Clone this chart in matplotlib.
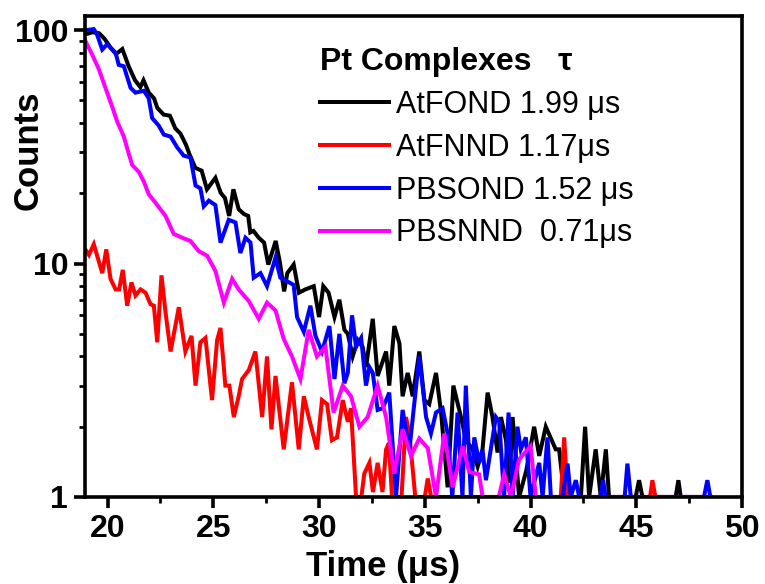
import numpy as np
import matplotlib
matplotlib.use('Agg')
import matplotlib.pyplot as plt
from matplotlib.ticker import LogLocator, NullFormatter, FixedLocator, MultipleLocator

plt.rcParams['font.family'] = ['Liberation Sans', 'DejaVu Sans']

# AtFOND (black)
t_atfond = [18.95, 19.3, 19.6, 19.85, 20.15, 20.4, 20.7, 21.0, 21.3, 21.55, 21.7, 21.95, 22.2, 22.35,
            22.65, 22.95, 23.2, 23.45, 23.7, 23.9, 24.15, 24.45, 24.7, 25.1, 25.35, 25.55, 25.75, 25.95,
            26.2, 26.45, 26.65, 26.75, 26.9, 27.15, 27.4, 27.6, 27.95, 28.15, 28.35, 28.5, 28.8, 29.05,
            29.35, 29.75, 30.0, 30.2, 30.45, 30.73, 30.96, 31.2, 31.36, 31.59, 31.83, 32.06, 32.22, 32.54,
            32.77, 33.17, 33.32, 33.56, 33.8, 33.95, 34.19, 34.43, 34.74, 34.98, 35.21, 35.53, 35.77, 36.08,
            36.35, 36.71, 36.95, 37.26, 37.5, 37.73, 37.97, 38.2, 38.44, 38.6, 38.84, 39.0, 39.15, 39.46,
            39.8, 40.17, 40.41, 40.72, 41.19, 41.35, 41.6, 42.38, 42.58, 42.77, 43.08, 43.32, 43.56, 43.71,
            44.97, 45.13, 45.29, 46.86, 46.99, 47.1, 48.5]
c_atfond = [96, 98, 97, 92, 84, 79, 83, 70, 61, 57, 61, 54, 51, 46.5,
            43.5, 43, 38, 36, 32.4, 29, 25.7, 25, 20.8, 23.3, 20.1, 19.1, 16.0, 20.8,
            17.1, 16.3, 16.0, 13.6, 13.8, 12.9, 12.3, 9.9, 12.5, 10.1, 7.6, 9.1, 9.9, 7.5,
            7.75, 8.0, 5.9, 8.0, 7.5, 5.9, 7.0, 5.2, 5.0, 4.0, 4.7, 4.4, 3.6, 5.8,
            3.3, 4.2, 3.0, 5.4, 4.55, 2.7, 3.4, 2.7, 4.2, 2.6, 2.5, 3.4, 2.3, 1.1,
            3.0, 2.2, 1.75, 1.6, 1.35, 1.6, 2.8, 2.2, 1.55, 2.2, 1.75, 1.15, 2.2, 1.0,
            1.3, 2.0, 1.5, 2.0, 1.6, 1.6, 1.0, 1.0, 2.0, 1.0, 1.6, 1.0, 1.6, 1.0,
            1.0, 1.18, 1.0, 1.0, 1.18, 1.0, 1.0]

# AtFNND (red)
t_atfnnd = [18.95, 19.12, 19.35, 19.75, 19.94, 20.14, 20.38, 20.55, 20.72, 20.93, 21.13, 21.32, 21.56,
            21.8, 22.03, 22.19, 22.35, 22.55, 22.74, 22.98, 23.37, 23.68, 23.97, 24.16, 24.39, 24.63,
            24.94, 25.18, 25.34, 25.57, 25.76, 25.97, 26.2, 26.36, 26.68, 26.99, 27.31, 27.54, 27.75,
            27.94, 28.33, 28.72, 29.04, 29.28, 29.51, 29.9, 30.14, 30.38, 30.61, 30.85, 31.12, 31.36,
            31.51, 31.75, 32.0, 32.14, 32.38, 32.55, 32.77, 33.0, 33.17, 33.3, 33.45, 33.9, 34.11, 34.27,
            34.55, 35.0, 35.14, 35.3, 41.43, 41.59, 41.75, 45.65, 45.76, 45.9, 48.5]
c_atfnnd = [11.5, 10.9, 12.1, 9.1, 11.5, 8.6, 7.75, 7.75, 9.4, 6.6, 8.3, 7.3, 7.75,
            7.5, 6.7, 6.6, 4.6, 8.9, 6.2, 4.2, 6.5, 4.2, 4.9, 3.0, 4.6, 4.8,
            2.6, 4.7, 5.3, 3.0, 3.0, 2.2, 2.7, 3.2, 3.5, 4.2, 2.2, 4.0, 1.95,
            3.3, 1.6, 3.1, 1.6, 2.7, 2.2, 1.6, 2.6, 2.5, 1.75, 1.8, 2.6, 2.1,
            2.4, 1.0, 1.0, 1.26, 1.4, 1.05, 1.4, 1.05, 1.6, 1.7, 1.0, 1.0, 2.2, 1.87,
            1.0, 1.0, 1.2, 1.0, 1.0, 1.8, 1.0, 1.0, 1.18, 1.0, 1.0]

# PBSOND (blue)
t_pbsond = [18.95, 19.35, 19.5, 19.75, 19.98, 20.38, 20.53, 20.77, 21.09, 21.32, 21.72, 21.95, 22.11,
            22.42, 22.66, 22.98, 23.29, 23.6, 23.92, 24.16, 24.39, 24.55, 24.79, 25.1, 25.34, 25.73,
            26.05, 26.28, 26.52, 26.76, 26.91, 27.23, 27.54, 27.94, 28.17, 28.49, 28.8, 28.96, 29.28,
            29.59, 29.83, 30.14, 30.49, 30.73, 30.96, 31.2, 31.36, 31.56, 31.75, 31.99, 32.22, 32.38,
            32.54, 32.77, 33.01, 33.32, 33.64, 33.95, 34.27, 34.74, 35.06, 35.29, 35.53, 35.84, 36.08,
            36.3, 36.55, 36.78, 36.94, 37.18, 37.34, 37.57, 37.73, 37.89, 38.36, 38.52, 38.75, 38.96,
            39.15, 39.38, 39.54, 39.78, 40.0, 40.41, 40.57, 40.8, 40.96, 41.51, 41.75, 41.9, 42.14,
            42.3, 43.3, 43.43, 43.55, 44.45, 44.58, 44.74, 48.2, 48.36, 48.5]
c_pbsond = [100, 101, 96, 82.6, 87, 80, 71, 70, 56.6, 54, 55, 51, 42,
            39, 35.7, 35, 31.5, 29, 28.5, 21.6, 21, 17.6, 18.6, 17.8, 12.3, 15.4,
            15, 11.1, 12.9, 12.3, 8.7, 9.1, 8.0, 10.6, 8.7, 8.4, 8.1, 5.9, 5.1,
            6.6, 4.9, 4.2, 5.4, 3.2, 5.0, 3.07, 3.4, 6.0, 4.4, 4.8, 3.0, 3.6,
            3.4, 2.36, 2.4, 2.8, 1.0, 2.36, 1.59, 4.0, 2.2, 1.87, 2.3, 2.4, 1.87,
            1.0, 2.3, 1.0, 3.0, 1.0, 1.8, 1.4, 1.59, 1.18, 2.2, 2.1, 1.0, 2.3,
            1.0, 2.0, 1.6, 1.8, 1.0, 1.4, 1.0, 1.8, 1.0, 1.0, 1.39, 1.0, 1.18,
            1.0, 1.0, 1.18, 1.0, 1.0, 1.39, 1.0, 1.0, 1.18, 1.0]

# PBSNND (magenta)
t_pbsnnd = [18.95, 19.27, 19.59, 19.9, 20.22, 20.46, 20.77, 21.0, 21.17, 21.48, 21.72, 21.95, 22.27,
            22.74, 23.13, 23.53, 23.92, 24.31, 24.71, 25.1, 25.5, 25.89, 26.2, 26.68, 27.15, 27.54,
            27.94, 28.33, 28.72, 29.12, 29.51, 29.9, 30.3, 30.69, 31.12, 31.51, 31.91, 32.3, 32.77,
            33.17, 33.56, 33.95, 34.35, 34.74, 35.14, 35.53, 35.92, 36.32, 36.79, 37.1, 37.57, 37.73,
            38.5, 38.75, 39.07, 39.46, 40.0, 40.25, 48.5]
c_pbsnnd = [90, 78.7, 68, 56.6, 47, 40.5, 35, 29.6, 26.4, 24.7, 22.4, 19.8, 18.2,
            16.0, 13.4, 12.9, 12.5, 11.3, 10.8, 9.3, 6.8, 8.6, 7.75, 6.9, 5.8, 6.8,
            6.3, 4.75, 4.0, 3.2, 5.2, 4.0, 4.4, 2.3, 3.0, 2.7, 2.0, 2.2, 3.0,
            2.2, 1.26, 1.95, 1.5, 1.78, 1.62, 1.0, 1.87, 1.1, 1.65, 1.28, 1.25, 1.0,
            1.0, 1.25, 1.0, 1.45, 1.65, 1.0, 1.0]

labels = ['AtFOND 1.99 \u03bcs', 'AtFNND 1.17\u03bcs', 'PBSOND 1.52 \u03bcs', 'PBSNND  0.71\u03bcs']
colors = ['black', 'red', 'blue', 'magenta']

fig = plt.figure(figsize=(7.65, 5.84), dpi=100)
ax = fig.add_axes([0.111, 0.149, 0.859, 0.8236])

series = [(t_atfond, c_atfond), (t_atfnnd, c_atfnnd), (t_pbsond, c_pbsond), (t_pbsnnd, c_pbsnnd)]
for (t, c), lab, col in zip(series, labels, colors):
    ax.plot(t, c, color=col, lw=2.9, label=lab, solid_joinstyle='miter')

ax.set_yscale('log')
ax.set_xlim(18.93, 50)
ax.set_ylim(1, 115)

ax.xaxis.set_major_locator(MultipleLocator(5))
ax.xaxis.set_minor_locator(MultipleLocator(2.5))
ax.yaxis.set_major_locator(FixedLocator([1, 10, 100]))
ax.yaxis.set_minor_locator(LogLocator(base=10, subs=np.arange(2, 10)))
ax.yaxis.set_minor_formatter(NullFormatter())
ax.set_yticklabels(['1', '10', '100'])

for s in ax.spines.values():
    s.set_linewidth(2.6)
ax.tick_params(axis='both', which='major', direction='out', length=8, width=2.6,
               labelsize=23, pad=4)
ax.tick_params(axis='both', which='minor', direction='out', length=4, width=2.0)
for lbl in ax.get_xticklabels() + ax.get_yticklabels():
    lbl.set_fontweight('bold')

ax.set_xlabel('Time (\u03bcs)', fontsize=25, fontweight='bold')
ax.xaxis.set_label_coords(0.454, -0.11)
ax.set_ylabel('Counts', fontsize=25, fontweight='bold')
ax.yaxis.set_label_coords(-0.062, 0.72)

leg = ax.legend(loc='upper left', bbox_to_anchor=(0.325, 0.98), frameon=False,
                fontsize=22, handlelength=2.25, handletextpad=0.25, labelspacing=0.42,
                title='Pt Complexes   \u03c4', alignment='left', borderpad=0.2)
leg.get_title().set_fontsize(23)
leg.get_title().set_fontweight('bold')

fig.savefig('out.png', dpi=100)
